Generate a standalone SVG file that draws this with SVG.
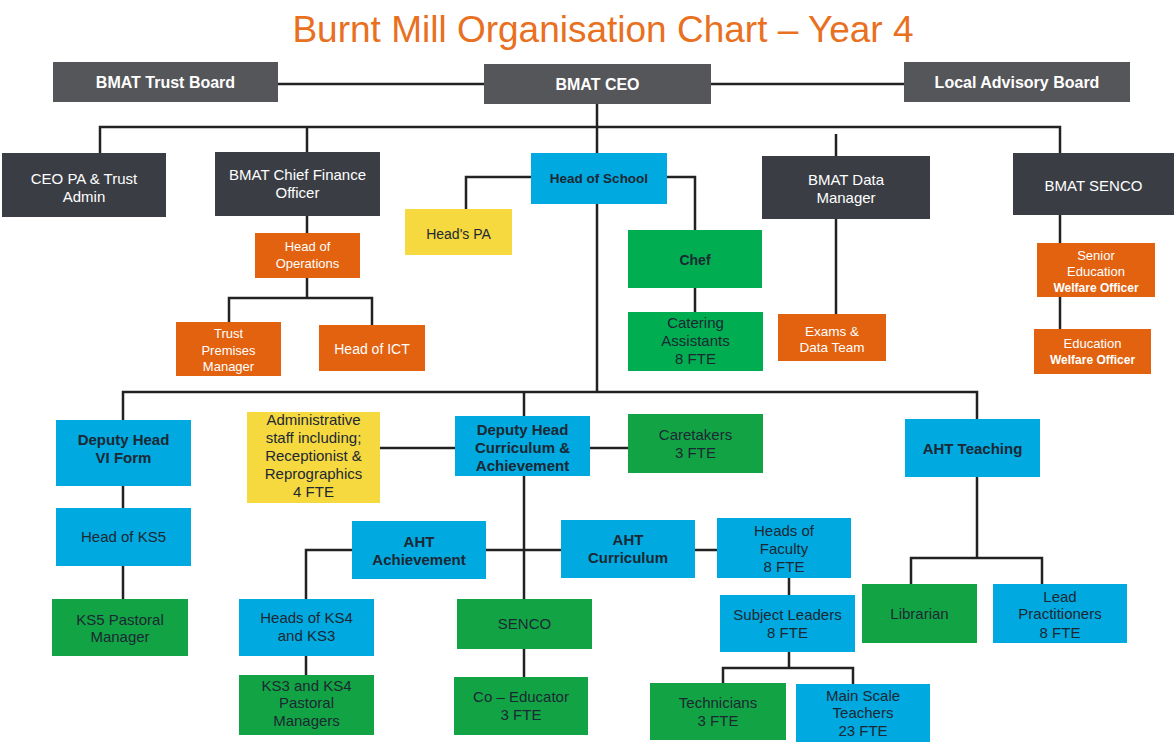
<svg xmlns="http://www.w3.org/2000/svg" width="1174" height="744" viewBox="0 0 1174 744">
<style>
text{font-family:"Liberation Sans",Arial,sans-serif;text-anchor:middle}
.title{font-size:37px;fill:#e8701f}
.g1{fill:#555659}
.g2{fill:#3a3e44}
.bl{fill:#00a9e0}
.gr{fill:#00ad50}
.gr2{fill:#12a444}
.or{fill:#e2620f}
.ye{fill:#f6d83f}
.w{fill:#ffffff;font-size:15px}
.wb{fill:#ffffff;font-size:16px;font-weight:bold}
.d{fill:#1c2833;font-size:15px}
.db{fill:#1c2833;font-size:15px;font-weight:bold}
.ws{fill:#ffffff;font-size:13px}
.wsb{fill:#ffffff;font-size:12px;font-weight:bold}
.c{fill:none;stroke:#222;stroke-width:2.5}
</style>
<rect width="1174" height="744" fill="#ffffff"/>
<text class="title" x="603" y="42">Burnt Mill Organisation Chart – Year 4</text>
<g id="connectors">
<path class="c" d="M278 84H484M711 84H904M597 104V153M100 153V127H1060V153M307 127V152M836 134V156"/>
<path class="c" d="M531 177H466V209M667 177H695V230M695 288V312M597 204V392"/>
<path class="c" d="M307 216V233M307 278V298M229 322V298H372V325M836 219V314M1060 215V243M1060 297V329"/>
<path class="c" d="M123 420V392H977V419M524 392V416M123 486V508M123 566V599M380 448H455M590 448H628M524 476V599"/>
<path class="c" d="M306 599V550H352M486 550H561M695 550H717M306 656V675M524 649V677M789 578V595M789 652V668M723 683V668H853V684M977 477V558M911 584V558H1042V584"/>
</g>
<g id="trust-board"><rect class="g1" x="53" y="62" width="225" height="40"/><text class="wb" x="165.5" y="88">BMAT Trust Board</text></g>
<g id="ceo"><rect class="g1" x="484" y="64" width="227" height="40"/><text class="wb" x="597.5" y="90">BMAT CEO</text></g>
<g id="local-advisory-board"><rect class="g1" x="904" y="62" width="226" height="40"/><text class="wb" x="1017" y="88">Local Advisory Board</text></g>
<g id="ceo-pa"><rect class="g2" x="2" y="153" width="164" height="64"/><text class="w" x="84" y="184">CEO PA &amp; Trust</text><text class="w" x="84" y="202">Admin</text></g>
<g id="cfo"><rect class="g2" x="215" y="152" width="165" height="64"/><text class="w" x="297.5" y="180">BMAT Chief Finance</text><text class="w" x="297.5" y="198">Officer</text></g>
<g id="head-of-school"><rect class="bl" x="531" y="153" width="136" height="51"/><text class="db" style="font-size:13.5px" x="599" y="183">Head of School</text></g>
<g id="data-manager"><rect class="g2" x="762" y="156" width="168" height="63"/><text class="w" x="846" y="185">BMAT Data</text><text class="w" x="846" y="203">Manager</text></g>
<g id="bmat-senco"><rect class="g2" x="1013" y="153" width="161" height="62"/><text class="w" x="1093.5" y="191">BMAT SENCO</text></g>
<g id="heads-pa"><rect class="ye" x="405" y="209" width="107" height="46"/><text class="d" style="font-size:14px" x="458.5" y="239">Head's PA</text></g>
<g id="head-of-operations"><rect class="or" x="255" y="233" width="105" height="45"/><text class="ws" x="307.5" y="251">Head of</text><text class="ws" x="307.5" y="268">Operations</text></g>
<g id="trust-premises-manager"><rect class="or" x="176" y="322" width="105" height="54"/><text class="ws" x="228.5" y="338">Trust</text><text class="ws" x="228.5" y="355">Premises</text><text class="ws" x="228.5" y="371">Manager</text></g>
<g id="head-of-ict"><rect class="or" x="319" y="325" width="106" height="46"/><text class="w" style="font-size:14px" x="372" y="354">Head of ICT</text></g>
<g id="chef"><rect class="gr" x="628" y="230" width="134" height="58"/><text class="db" style="font-size:14px" x="695" y="265">Chef</text></g>
<g id="catering"><rect class="gr" x="628" y="312" width="135" height="59"/><text class="d" x="695.5" y="328">Catering</text><text class="d" x="695.5" y="346">Assistants</text><text class="d" x="695.5" y="364">8 FTE</text></g>
<g id="exams-data"><rect class="or" x="778" y="314" width="108" height="47"/><text class="ws" style="font-size:13.5px" x="832" y="336">Exams &amp;</text><text class="ws" style="font-size:13.5px" x="832" y="352">Data Team</text></g>
<g id="senior-ewo"><rect class="or" x="1037" y="243" width="118" height="54"/><text class="ws" x="1096" y="260">Senior</text><text class="ws" x="1096" y="276">Education</text><text class="wsb" x="1096" y="292">Welfare Officer</text></g>
<g id="ewo"><rect class="or" x="1034" y="329" width="117" height="45"/><text class="ws" x="1092.5" y="348">Education</text><text class="wsb" x="1092.5" y="364">Welfare Officer</text></g>
<g id="dh-vi-form"><rect class="bl" x="56" y="420" width="135" height="66"/><text class="db" x="123.5" y="445">Deputy Head</text><text class="db" x="123.5" y="463">VI Form</text></g>
<g id="head-ks5"><rect class="bl" x="56" y="508" width="135" height="58"/><text class="d" x="123.5" y="542">Head of KS5</text></g>
<g id="ks5-pastoral"><rect class="gr2" x="52" y="599" width="136" height="57"/><text class="d" x="120" y="625">KS5 Pastoral</text><text class="d" x="120" y="642">Manager</text></g>
<g id="admin-staff"><rect class="ye" x="247" y="412" width="133" height="91"/><text class="d" x="313.5" y="425">Administrative</text><text class="d" x="313.5" y="443">staff including;</text><text class="d" x="313.5" y="461">Receptionist &amp;</text><text class="d" x="313.5" y="479">Reprographics</text><text class="d" x="313.5" y="497">4 FTE</text></g>
<g id="dh-curriculum"><rect class="bl" x="455" y="416" width="135" height="60"/><text class="db" x="522.5" y="435">Deputy Head</text><text class="db" x="522.5" y="453">Curriculum &amp;</text><text class="db" x="522.5" y="471">Achievement</text></g>
<g id="caretakers"><rect class="gr2" x="628" y="414" width="135" height="59"/><text class="d" x="695.5" y="440">Caretakers</text><text class="d" x="695.5" y="458">3 FTE</text></g>
<g id="aht-teaching"><rect class="bl" x="905" y="419" width="135" height="58"/><text class="db" x="972.5" y="454">AHT Teaching</text></g>
<g id="aht-achievement"><rect class="bl" x="352" y="521" width="134" height="58"/><text class="db" x="419" y="547">AHT</text><text class="db" x="419" y="565">Achievement</text></g>
<g id="aht-curriculum"><rect class="bl" x="561" y="520" width="134" height="58"/><text class="db" x="628" y="545">AHT</text><text class="db" x="628" y="563">Curriculum</text></g>
<g id="heads-of-faculty"><rect class="bl" x="717" y="518" width="134" height="60"/><text class="d" x="784" y="536">Heads of</text><text class="d" x="784" y="554">Faculty</text><text class="d" x="784" y="572">8 FTE</text></g>
<g id="heads-ks4"><rect class="bl" x="239" y="599" width="135" height="57"/><text class="d" x="306.5" y="623">Heads of KS4</text><text class="d" x="306.5" y="641">and KS3</text></g>
<g id="ks3-ks4-pastoral"><rect class="gr2" x="239" y="675" width="135" height="60"/><text class="d" x="306.5" y="691">KS3 and KS4</text><text class="d" x="306.5" y="708">Pastoral</text><text class="d" x="306.5" y="726">Managers</text></g>
<g id="senco"><rect class="gr2" x="457" y="599" width="135" height="50"/><text class="d" x="524.5" y="629">SENCO</text></g>
<g id="co-educator"><rect class="gr2" x="454" y="677" width="134" height="58"/><text class="d" x="521" y="702">Co – Educator</text><text class="d" x="521" y="720">3 FTE</text></g>
<g id="subject-leaders"><rect class="bl" x="720" y="595" width="135" height="57"/><text class="d" x="787.5" y="620">Subject Leaders</text><text class="d" x="787.5" y="638">8 FTE</text></g>
<g id="librarian"><rect class="gr2" x="862" y="584" width="115" height="59"/><text class="d" x="919.5" y="619">Librarian</text></g>
<g id="lead-practitioners"><rect class="bl" x="993" y="584" width="134" height="59"/><text class="d" x="1060" y="602">Lead</text><text class="d" x="1060" y="619">Practitioners</text><text class="d" x="1060" y="638">8 FTE</text></g>
<g id="technicians"><rect class="gr2" x="650" y="683" width="136" height="57"/><text class="d" x="718" y="708">Technicians</text><text class="d" x="718" y="726">3 FTE</text></g>
<g id="main-scale-teachers"><rect class="bl" x="796" y="684" width="134" height="58"/><text class="d" x="863" y="701">Main Scale</text><text class="d" x="863" y="718">Teachers</text><text class="d" x="863" y="736">23 FTE</text></g>
</svg>
